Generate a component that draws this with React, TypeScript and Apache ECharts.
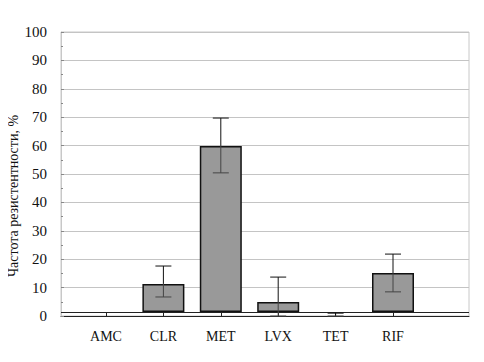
import React, { useEffect, useRef } from "react";
import * as echarts from "echarts";

const categories = ["AMC", "CLR", "MET", "LVX", "TET", "RIF"];
const values = [0, 11.3, 59.9, 4.9, 0, 15.1];
const errHigh = [0, 17.6, 69.7, 13.7, 1.0, 21.8];
const errLow = [0, 6.7, 50.4, 0, 0, 8.5];
const yTicks = [0, 10, 20, 30, 40, 50, 60, 70, 80, 90, 100];
const BASE = 1.4;
const yName = "Частота резистентности, %";

const FONT = "Liberation Serif";

export default function App() {
  const ref = useRef<HTMLDivElement>(null);
  useEffect(() => {
    if (!ref.current) return;
    const chart = echarts.init(ref.current, undefined, { renderer: "svg" });
    const baseData = values.map((v) => (v > 0 ? BASE : "-"));
    const topData = values.map((v) => (v > 0 ? v - BASE : "-"));
    const errData = categories.map((c, i) => [i, errLow[i], errHigh[i], values[i]]);
    chart.setOption({
      animation: false,
      backgroundColor: "#fff",
      textStyle: { fontFamily: FONT },
      grid: [
        { left: 61, right: 15, top: 32, bottom: 46, show: true, borderColor: "#c8c8c8", borderWidth: 1 },
        { left: 77.3, right: 62.3, top: 32, bottom: 46 },
      ],
      xAxis: [
        {
          type: "value",
          gridIndex: 0,
          min: 0,
          max: 1,
          axisLine: { show: true, lineStyle: { color: "#222", width: 1 } },
          axisTick: { show: false },
          axisLabel: { show: false },
          splitLine: { show: false },
        },
        {
          type: "category",
          gridIndex: 1,
          data: categories,
          axisLine: { show: false },
          axisTick: { show: true, alignWithLabel: true, inside: true, length: 4, lineStyle: { color: "#222" } },
          axisLabel: { fontFamily: FONT, fontSize: 14, color: "#111", margin: 13 },
        },
      ],
      yAxis: [
        {
          type: "value",
          gridIndex: 0,
          min: 0,
          max: 100,
          interval: 10,
          axisLine: { show: true, lineStyle: { color: "#c8c8c8" } },
          axisTick: { show: true, inside: true, length: 3, lineStyle: { color: "#888" } },
          minorTick: { show: true, splitNumber: 2, length: 2, lineStyle: { color: "#888" } },
          axisLabel: {
            fontFamily: FONT,
            fontSize: 15,
            color: "#111",
            margin: 14,
            formatter: (v: number) => (yTicks.includes(v) ? String(v) : ""),
          },
          splitLine: { show: true, lineStyle: { color: "#c4c4c4", width: 1 } },
        },
        {
          type: "value",
          gridIndex: 1,
          min: 0,
          max: 100,
          show: false,
          splitLine: { show: false },
        },
      ],
      graphic: [
        {
          type: "text",
          x: 13,
          y: 196,
          rotation: Math.PI / 2,
          style: {
            text: yName,
            fontFamily: FONT,
            fontSize: 14,
            fill: "#111",
            align: "center",
            verticalAlign: "middle",
          },
        },
      ],
      series: [
        {
          type: "line",
          xAxisIndex: 0,
          yAxisIndex: 0,
          data: [],
          markLine: {
            silent: true,
            symbol: "none",
            label: { show: false },
            lineStyle: { color: "#222", width: 1, type: "solid" },
            data: [{ yAxis: BASE }],
          },
        },
        {
          type: "bar",
          xAxisIndex: 1,
          yAxisIndex: 1,
          stack: "s",
          barWidth: 42,
          data: baseData,
          itemStyle: { color: "rgba(0,0,0,0)" },
        },
        {
          type: "bar",
          xAxisIndex: 1,
          yAxisIndex: 1,
          stack: "s",
          barWidth: 42,
          data: topData,
          itemStyle: { color: "#999999", borderColor: "#111", borderWidth: 1.5 },
        },
        {
          type: "custom",
          xAxisIndex: 1,
          yAxisIndex: 1,
          data: errData,
          z: 10,
          renderItem: (params: any, api: any) => {
            const x = api.value(0);
            const lo = api.value(1);
            const hi = api.value(2);
            const v = api.value(3);
            const pHi = api.coord([x, hi]);
            const pLo = api.coord([x, lo]);
            const pV = api.coord([x, v]);
            const half = 8;
            if (hi <= 0) return null;
            return {
              type: "group",
              children: [
                {
                  type: "line",
                  shape: { x1: pHi[0], y1: pHi[1], x2: pV[0], y2: pV[1] },
                  style: { stroke: "#111", lineWidth: 1 },
                },
                {
                  type: "line",
                  shape: { x1: pV[0], y1: pV[1], x2: pLo[0], y2: pLo[1] },
                  style: { stroke: "#444", lineWidth: 1 },
                },
                {
                  type: "line",
                  shape: { x1: pHi[0] - half, y1: pHi[1], x2: pHi[0] + half, y2: pHi[1] },
                  style: { stroke: "#111", lineWidth: 1 },
                },
                {
                  type: "line",
                  shape: { x1: pLo[0] - half, y1: pLo[1], x2: pLo[0] + half, y2: pLo[1] },
                  style: { stroke: "#444", lineWidth: 1 },
                },
              ],
            };
          },
        },
      ],
    });
    return () => chart.dispose();
  }, []);
  return <div ref={ref} style={{ width: 484, height: 362, margin: -8 }} />;
}
